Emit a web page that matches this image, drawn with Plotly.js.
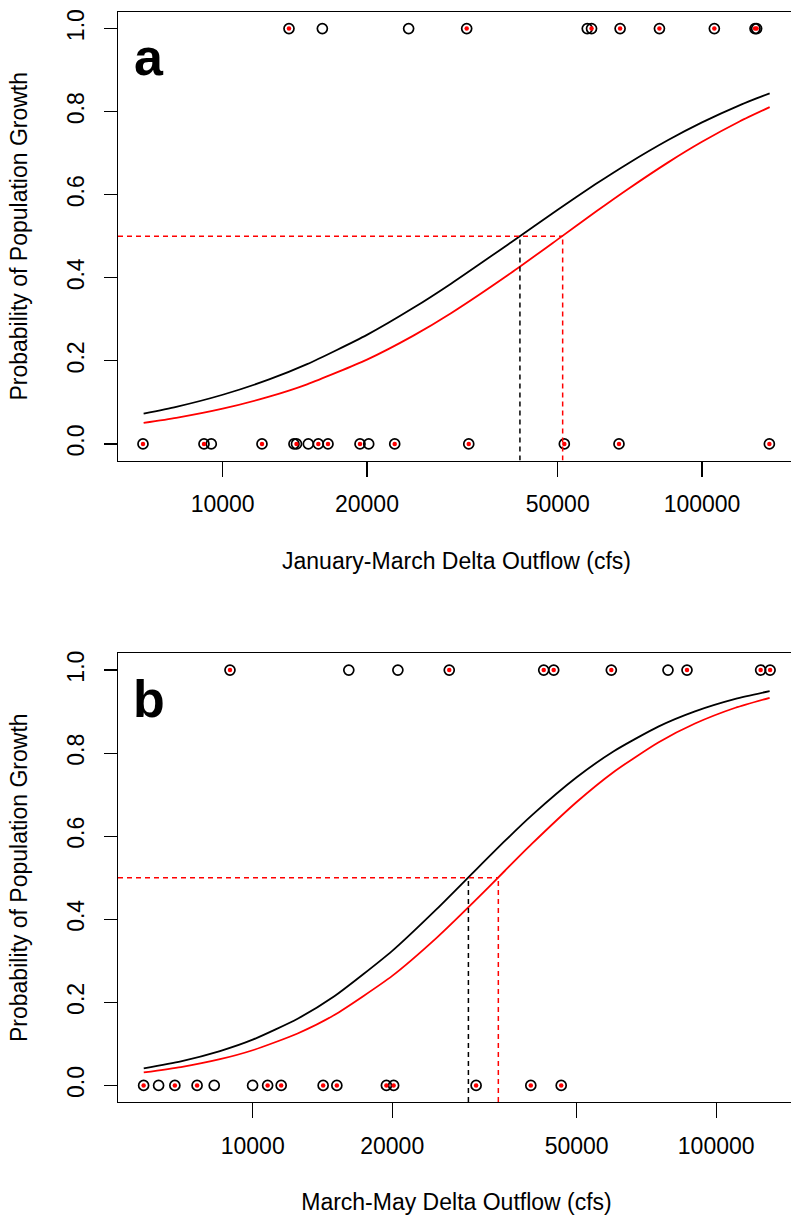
<!DOCTYPE html>
<html><head><meta charset="utf-8">
<script src="https://cdn.plot.ly/plotly-3.0.1.min.js"></script>
<style>html,body{margin:0;padding:0;overflow:hidden;background:#fff;} #chart{width:800px;height:1218px;}</style>
</head><body><div id="chart"></div>
<script>
// ---------- Panel a: January-March Delta Outflow ----------
const janMarGrowthAll = [13750, 16140, 24430, 32290, 57620, 58820, 67470, 81500, 106100, 129000, 130000];
const janMarDeclineAll = [6819, 9141, 9467, 12078, 14084, 14256, 15088, 15831, 16585, 19342, 20166, 22850, 32610, 51610, 67110, 138200];
const janMarGrowthSubset = [13750, 32290, 58820, 67470, 81500, 106100, 129000, 130000];
const janMarDeclineSubset = [6819, 9141, 12078, 14256, 15831, 16585, 19342, 22850, 32610, 51610, 67110, 138200];
const janMarCurveX = [6840, 8000, 10000, 12500, 15000, 20000, 25000, 30000, 40000, 50000, 60000, 70000, 85000, 100000, 120000, 138400];
const janMarCurveAll = [0.0730, 0.0893, 0.1184, 0.1553, 0.1920, 0.2626, 0.3277, 0.3865, 0.4858, 0.5639, 0.6256, 0.6748, 0.7317, 0.7742, 0.8159, 0.8441];
const janMarCurveSubset = [0.0506, 0.0627, 0.0848, 0.1138, 0.1435, 0.2030, 0.2608, 0.3153, 0.4121, 0.4925, 0.5588, 0.6132, 0.6779, 0.7274, 0.7769, 0.8108];
const janMarHalfAll = 41700;
const janMarHalfSubset = 51200;

// ---------- Panel b: March-May Delta Outflow ----------
const marMayGrowthAll = [8933, 16120, 20570, 26550, 42450, 44610, 59390, 78700, 86500, 124700, 130700];
const marMayDeclineAll = [5817, 6266, 6793, 7586, 8260, 9995, 10770, 11520, 14190, 15190, 19430, 20140, 30340, 39810, 46300];
const marMayGrowthSubset = [8933, 26550, 42450, 44610, 59390, 86500, 124700, 130700];
const marMayDeclineSubset = [5817, 6793, 7586, 10770, 11520, 14190, 15190, 19430, 20140, 30340, 39810, 46300];
const marMayCurveX = [5820, 7000, 8500, 10000, 12500, 15000, 20000, 25000, 30000, 35000, 40000, 50000, 60000, 75000, 90000, 110000, 130400];
const marMayCurveAll = [0.0412, 0.0580, 0.0826, 0.1100, 0.1605, 0.2145, 0.3239, 0.4256, 0.5142, 0.5886, 0.6501, 0.7418, 0.8040, 0.8639, 0.9006, 0.9306, 0.9493];
const marMayCurveSubset = [0.0311, 0.0440, 0.0630, 0.0846, 0.1250, 0.1695, 0.2637, 0.3564, 0.4417, 0.5168, 0.5813, 0.6823, 0.7541, 0.8258, 0.8713, 0.9093, 0.9333];
const marMayHalfAll = 29200;
const marMayHalfSubset = 33880;

// ---------- Axis labels ----------
const xTickVals = [10000, 20000, 50000, 100000];
const xTickText = ["10000", "20000", "50000", "100000"];
const yTickVals = [0, 0.2, 0.4, 0.6, 0.8, 1.0];
const yTickText = ["0.0", "0.2", "0.4", "0.6", "0.8", "1.0"];
const xTitleA = "January-March Delta Outflow (cfs)";
const xTitleB = "March-May Delta Outflow (cfs)";
const yTitle = "Probability of Population Growth";
const panelLabels = ["a", "b"];

const xRangeA = [3.7816, 5.1940];
const xRangeB = [3.7094, 5.1700];
const yRange = [-0.04, 1.04];

const FONT = "Liberation Sans, Arial, sans-serif";

function panelTraces(xa, ya, growthAll, declineAll, growthSub, declineSub, cx, cAll, cSub, halfAll, halfSub, xRange) {
  const openX = growthAll.concat(declineAll);
  const openY = growthAll.map(() => 1).concat(declineAll.map(() => 0));
  const redX = growthSub.concat(declineSub);
  const redY = growthSub.map(() => 1).concat(declineSub.map(() => 0));
  const xMin = Math.pow(10, xRange[0]);
  return [
    {x: openX, y: openY, xaxis: xa, yaxis: ya, type: 'scatter', mode: 'markers', hoverinfo: 'skip',
     marker: {symbol: 'circle-open', size: 10, color: '#000', line: {width: 1.7, color: '#000'}}},
    {x: redX, y: redY, xaxis: xa, yaxis: ya, type: 'scatter', mode: 'markers', hoverinfo: 'skip',
     marker: {symbol: 'circle', size: 4.5, color: '#ff0000', line: {width: 0}}},
    {x: cx, y: cAll, xaxis: xa, yaxis: ya, type: 'scatter', mode: 'lines', hoverinfo: 'skip',
     line: {color: '#000', width: 1.8, shape: 'spline', smoothing: 0.6}},
    {x: cx, y: cSub, xaxis: xa, yaxis: ya, type: 'scatter', mode: 'lines', hoverinfo: 'skip',
     line: {color: '#ff0000', width: 1.8, shape: 'spline', smoothing: 0.6}},
    {x: [halfAll, halfAll], y: [yRange[0], 0.5], xaxis: xa, yaxis: ya, type: 'scatter', mode: 'lines', hoverinfo: 'skip',
     line: {color: '#000', width: 1.5, dash: '5px,4px'}},
    {x: [halfSub, halfSub], y: [yRange[0], 0.5], xaxis: xa, yaxis: ya, type: 'scatter', mode: 'lines', hoverinfo: 'skip',
     line: {color: '#ff0000', width: 1.5, dash: '5px,4px'}},
    {x: [xMin, halfSub], y: [0.5, 0.5], xaxis: xa, yaxis: ya, type: 'scatter', mode: 'lines', hoverinfo: 'skip',
     line: {color: '#ff0000', width: 1.5, dash: '5px,4px'}}
  ];
}

const data = [].concat(
  panelTraces('x', 'y', janMarGrowthAll, janMarDeclineAll, janMarGrowthSubset, janMarDeclineSubset,
              janMarCurveX, janMarCurveAll, janMarCurveSubset, janMarHalfAll, janMarHalfSubset, xRangeA),
  panelTraces('x2', 'y2', marMayGrowthAll, marMayDeclineAll, marMayGrowthSubset, marMayDeclineSubset,
              marMayCurveX, marMayCurveAll, marMayCurveSubset, marMayHalfAll, marMayHalfSubset, xRangeB)
);

function xAxis(range, title, anchor) {
  return {type: 'log', range: range, anchor: anchor, showline: true, mirror: true, linecolor: '#000', linewidth: 1.2,
    ticks: 'outside', ticklen: 15, tickwidth: 1.2, tickcolor: '#000', tickvals: xTickVals, ticktext: xTickText,
    tickfont: {family: FONT, size: 23, color: '#000'}, ticklabelstandoff: 8,
    showgrid: false, zeroline: false, fixedrange: true,
    title: {text: title, font: {family: FONT, size: 23, color: '#000'}, standoff: 36}};
}
function yAxis(domain, anchor) {
  return {range: yRange, domain: domain, anchor: anchor, showline: true, mirror: true, linecolor: '#000', linewidth: 1.2,
    ticks: 'outside', ticklen: 13, tickwidth: 1.2, tickcolor: '#000', tickvals: yTickVals, ticktext: yTickText,
    tickangle: -90, tickfont: {family: FONT, size: 23, color: '#000'}, ticklabelstandoff: 11,
    showgrid: false, zeroline: false, fixedrange: true,
    title: {text: yTitle, font: {family: FONT, size: 23, color: '#000'}, standoff: 28}};
}

const layout = {
  width: 800, height: 1218,
  margin: {l: 118, r: 5, t: 12, b: 116},
  paper_bgcolor: '#fff', plot_bgcolor: '#fff',
  showlegend: false,
  xaxis: xAxis(xRangeA, xTitleA, 'y'),
  yaxis: yAxis([0.5885, 1], 'x'),
  xaxis2: xAxis(xRangeB, xTitleB, 'y2'),
  yaxis2: yAxis([0, 0.4115], 'x2'),
  annotations: [
    {text: panelLabels[0], xref: 'x domain', yref: 'y domain', x: 0.0458, y: 0.8986, xanchor: 'center', yanchor: 'middle',
     showarrow: false, font: {family: FONT, size: 52, color: '#000', weight: 'bold'}},
    {text: panelLabels[1], xref: 'x2 domain', yref: 'y2 domain', x: 0.0458, y: 0.8986, xanchor: 'center', yanchor: 'middle',
     showarrow: false, font: {family: FONT, size: 52, color: '#000', weight: 'bold'}}
  ]
};

Plotly.newPlot('chart', data, layout, {staticPlot: true, displayModeBar: false});
</script>
</body></html>
